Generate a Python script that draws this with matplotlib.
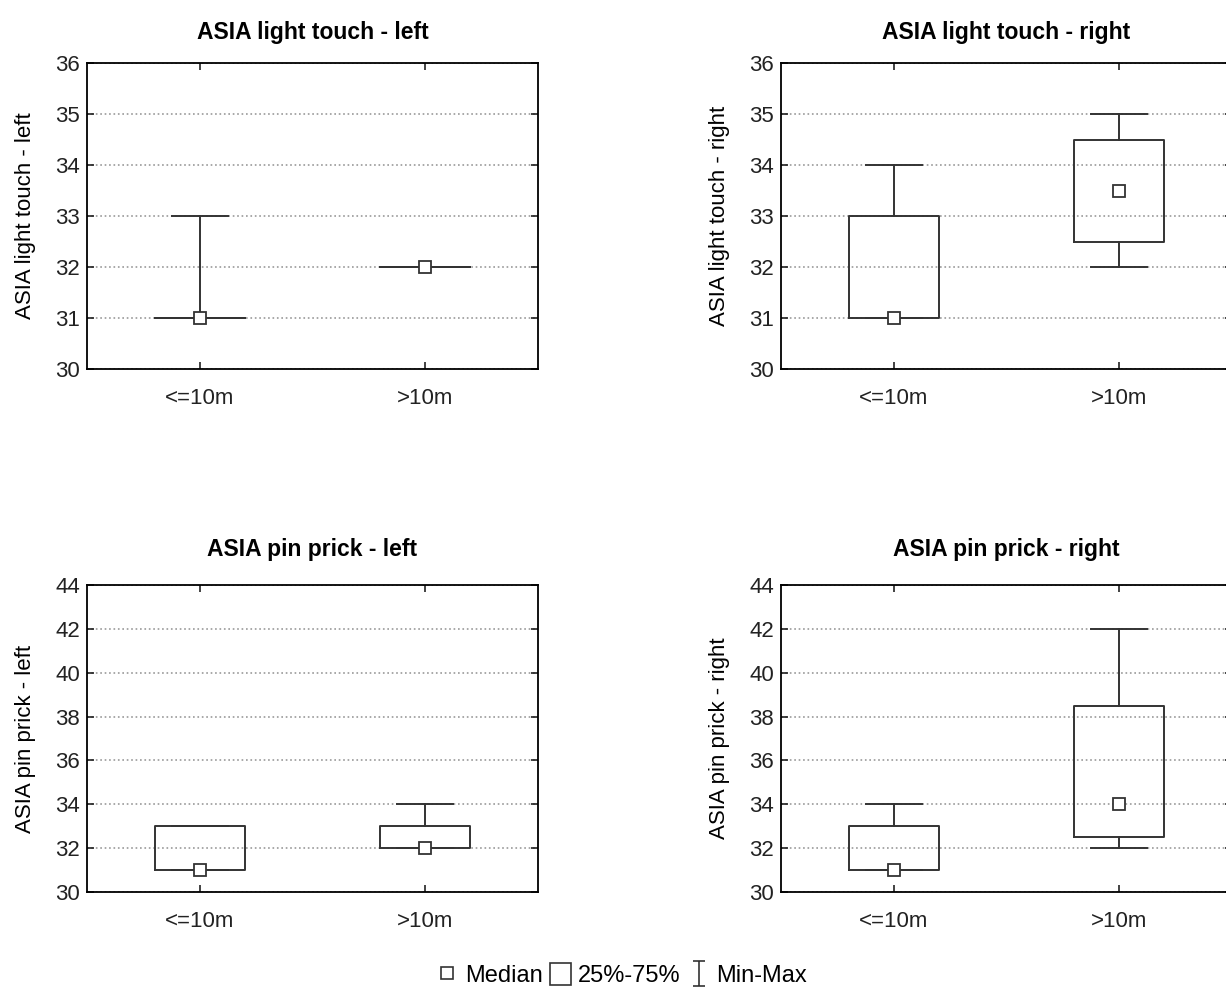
import numpy as np
import matplotlib
matplotlib.use("Agg")
import matplotlib.pyplot as plt
from matplotlib.lines import Line2D
from matplotlib.patches import Patch
from matplotlib.path import Path

plt.rcParams['font.family'] = ['Liberation Sans', 'DejaVu Sans']
plt.rcParams['xtick.direction'] = 'in'
plt.rcParams['ytick.direction'] = 'in'
plt.rcParams['axes.linewidth'] = 1.3

# data
groups = ['<=10m', '>10m']
titles = ['ASIA light touch - left', 'ASIA light touch - right',
          'ASIA pin prick - left', 'ASIA pin prick - right']
medians = [[31, 32], [31, 33.5], [31, 32], [31, 34]]
q1s = [[31, 32], [31, 32.5], [31, 32], [31, 32.5]]
q3s = [[31, 32], [33, 34.5], [33, 33], [33, 38.5]]
mins = [[31, 32], [31, 32], [31, 32], [31, 32]]
maxs = [[33, 32], [34, 35], [33, 34], [34, 42]]
ylims = [(30, 36), (30, 36), (30, 44), (30, 44)]
ysteps = [1, 1, 2, 2]

W, H = 1226, 989
fig = plt.figure(figsize=(W / 100, H / 100), dpi=100)

# axes boxes in pixels: left, top, right, bottom
boxes = [(87, 63, 538, 369), (781, 63, 1232, 369),
         (87, 585, 538, 892), (781, 585, 1232, 892)]
title_pad = [17, 17, 21, 21]

col = '#333333'
for i, (l, t, r, b) in enumerate(boxes):
    ax = fig.add_axes([l / W, 1 - b / H, (r - l) / W, (b - t) / H])
    stats = []
    for j in range(2):
        stats.append(dict(med=medians[i][j], q1=q1s[i][j], q3=q3s[i][j],
                          whislo=mins[i][j], whishi=maxs[i][j], fliers=[]))
    pos = np.arange(1, 3)
    ax.bxp(stats, positions=pos, widths=0.4, capwidths=0.25, showfliers=False,
           boxprops=dict(color=col, lw=1.4),
           whiskerprops=dict(color=col, lw=1.4),
           capprops=dict(color=col, lw=1.4),
           medianprops=dict(lw=0))
    ax.plot(pos, medians[i], 's', ms=8, mfc='white', mec=col, mew=1.3, zorder=5)
    ax.set_xlim(0.5, 2.5)
    ax.set_ylim(*ylims[i])
    ax.set_yticks(np.arange(ylims[i][0], ylims[i][1] + 0.1, ysteps[i]))
    ax.set_xticks(pos)
    ax.set_xticklabels(groups)
    ax.tick_params(axis='both', labelsize=16, length=5, width=1.2,
                   top=True, right=True, colors='#222222')
    ax.tick_params(axis='x', pad=14)
    ax.tick_params(axis='y', pad=5)
    ax.yaxis.grid(True, linestyle=':', color='#999999', lw=1.2)
    ax.set_axisbelow(True)
    ax.set_ylabel(titles[i], fontsize=16, labelpad=14)
    ax.set_title(titles[i], fontsize=16.5, fontweight='bold', pad=title_pad[i])

# legend
ibeam = Path([(-0.5, 1), (0.5, 1), (0, 1), (0, -1), (-0.5, -1), (0.5, -1)],
             [Path.MOVETO, Path.LINETO, Path.MOVETO, Path.LINETO,
              Path.MOVETO, Path.LINETO])
handles = [Line2D([], [], ls='none', marker='s', ms=8, mfc='white', mec=col, mew=1.2),
           Patch(facecolor='white', edgecolor=col, lw=1.2),
           Line2D([], [], ls='none', marker=ibeam, ms=18, mec=col, mew=1.2)]
fig.legend(handles, ['Median', '25%-75%', 'Min-Max'], loc='center',
           bbox_to_anchor=(622 / W, 1 - 975 / H), ncol=3, frameon=False,
           fontsize=17, handlelength=0.9, handleheight=1.1,
           handletextpad=0.3, columnspacing=0.3)

fig.savefig('out.png', dpi=100, facecolor='white')
